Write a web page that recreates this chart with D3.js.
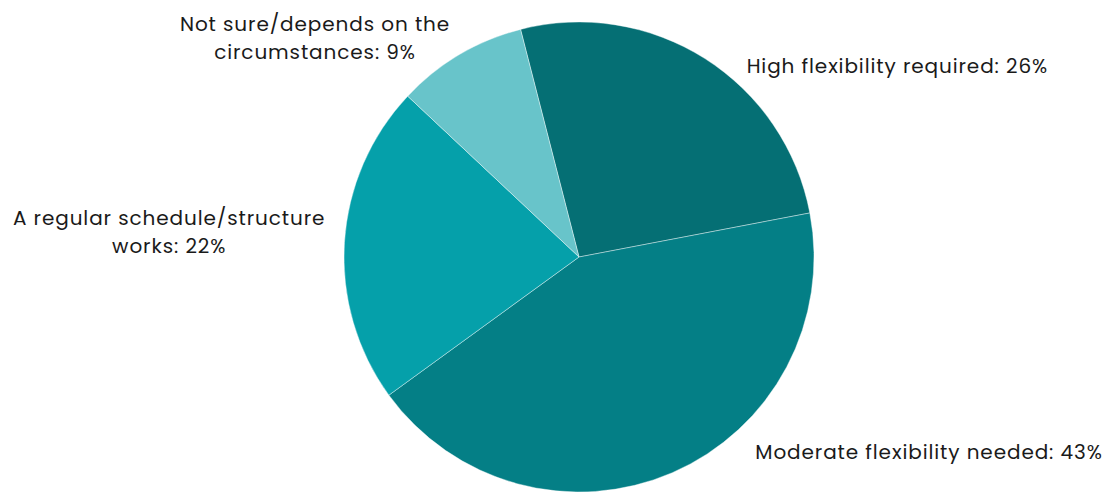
<!DOCTYPE html>
<html><head><meta charset="utf-8">
<script src="https://cdn.jsdelivr.net/npm/d3@7"></script>
<style>html,body{margin:0;padding:0;background:#fff;}svg{display:block;}</style>
</head><body>
<svg id="chart" width="1104" height="492"></svg>
<script>
const categories = ["High flexibility required", "Moderate flexibility needed", "A regular schedule/structure works", "Not sure/depends on the circumstances"];
const values = [26, 43, 22, 9];
const labelLines = [
  ["High flexibility required: 26%"],
  ["Moderate flexibility needed: 43%"],
  ["A regular schedule/structure", "works: 22%"],
  ["Not sure/depends on the", "circumstances: 9%"]
];
const colors = ["#056f74", "#047f86", "#05a0aa", "#68c4ca"];

const W = 1104, H = 492, cx = 579, cy = 257, r = 235;
const startOffset = -0.04 * 2 * Math.PI;
const nudges = [[31, 24], [75, -39], [0, -9], [0, 0]];

const svg = d3.select("#chart");
const g = svg.append("g").attr("transform", `translate(${cx},${cy})`);
const pie = d3.pie().sort(null).value(d => d)
  .startAngle(startOffset).endAngle(startOffset + 2 * Math.PI);
const arcs = pie(values);
const arc = d3.arc().innerRadius(0).outerRadius(r);
const color = d3.scaleOrdinal().domain(d3.range(values.length)).range(colors);

g.selectAll("path").data(arcs).join("path")
  .attr("d", arc).attr("fill", (d, i) => color(i))
  .attr("stroke", "#ffffff").attr("stroke-width", 0.4);

const lineH = 28;
const ls = 0.9;
arcs.forEach((d, i) => {
  const a = (d.startAngle + d.endAngle) / 2;
  const R = r + 20;
  const px = cx + R * Math.sin(a) + nudges[i][0];
  const py = cy - R * Math.cos(a) + nudges[i][1];
  const right = Math.sin(a) > 0;
  const t = svg.append("text")
    .attr("font-family", "Poppins, Inter, 'Noto Sans', sans-serif")
    .attr("font-size", 20).attr("letter-spacing", ls).attr("fill", "#1a1a1a");
  const lines = labelLines[i];
  const tspans = lines.map((s, k) => t.append("tspan").text(s));
  const widths = tspans.map(ts => ts.node().getComputedTextLength() - ls);
  const bw = d3.max(widths);
  const left = right ? px : px - bw;
  const top = py - (lines.length * lineH) / 2;
  tspans.forEach((ts, k) => {
    ts.attr("x", left + bw / 2 + ls / 2).attr("text-anchor", "middle")
      .attr("y", top + k * lineH + lineH / 2).attr("dy", "0.35em");
  });
});
</script>
</body></html>
